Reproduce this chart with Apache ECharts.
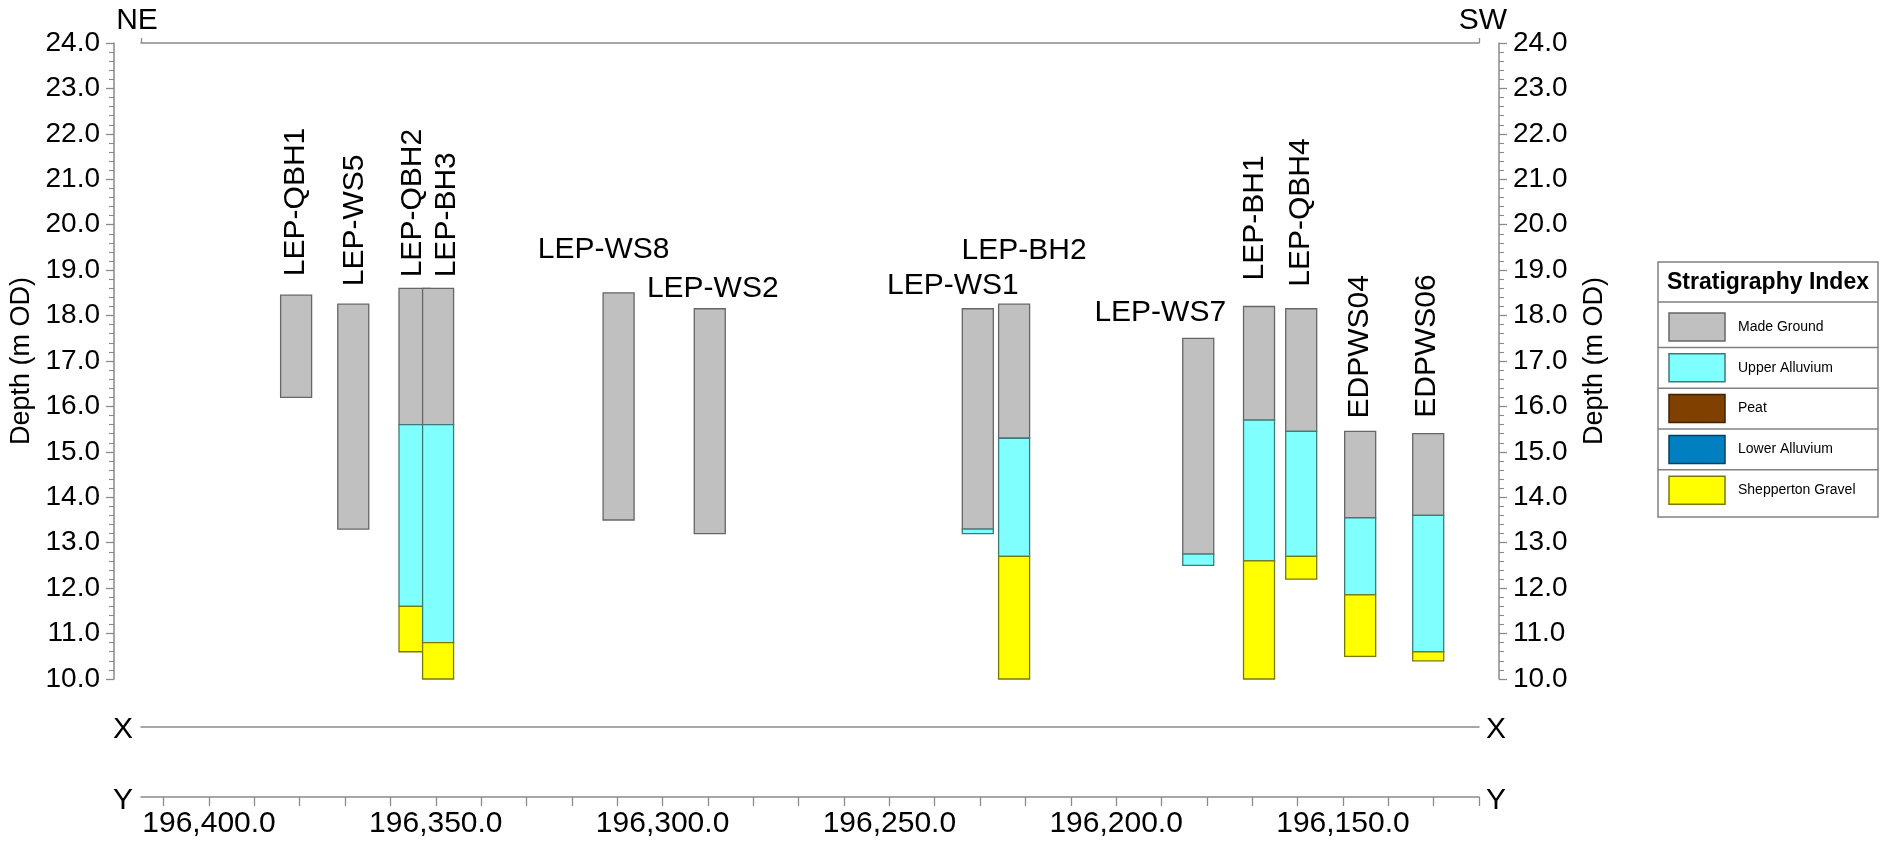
<!DOCTYPE html>
<html>
<head>
<meta charset="utf-8">
<script src="https://cdn.jsdelivr.net/npm/echarts@6/dist/echarts.min.js"></script>
<style>
    html, body { margin: 0; padding: 0; background: #fff; }
    #main { width: 1890px; height: 843px; }
</style>
</head>
<body>
<div id="main"></div>
<script>
// boreholes along the NE -> SW section
var boreholes = ['LEP-QBH1', 'LEP-WS5', 'LEP-QBH2', 'LEP-BH3', 'LEP-WS8', 'LEP-WS2', 'LEP-WS1',
    'LEP-BH2', 'LEP-WS7', 'LEP-BH1', 'LEP-QBH4', 'EDPWS04', 'EDPWS06'];
var northing = [196380.8, 196368.2, 196354.7, 196349.5, 196309.7, 196289.6, 196230.5,
    196222.5, 196181.9, 196168.5, 196159.2, 196146.2, 196131.2];
var groundLevel = [18.45, 18.25, 18.6, 18.6, 18.5, 18.15, 18.15, 18.25, 17.5, 18.2, 18.15, 15.45, 15.4];

// stratigraphy index
var strata = ['Made Ground', 'Upper Alluvium', 'Peat', 'Lower Alluvium', 'Shepperton Gravel'];
// base level (m OD) of each stratum per borehole, null = not present
var baseMadeGround = [16.2, 13.3, 15.6, 15.6, 13.5, 13.2, 13.3, 15.3, 12.75, 15.7, 15.45, 13.55, 13.6];
var baseUpperAlluvium = [null, null, 11.6, 10.8, null, null, 13.2, 12.7, 12.5, 12.6, 12.7, 11.85, 10.6];
var basePeat = [null, null, null, null, null, null, null, null, null, null, null, null, null];
var baseLowerAlluvium = [null, null, null, null, null, null, null, null, null, null, null, null, null];
var baseShepperton = [null, null, 10.6, 10.0, null, null, null, 10.0, null, 10.0, 12.2, 10.5, 10.4];

// axes
var northingTicks = [196410, 196400, 196390, 196380, 196370, 196360, 196350, 196340, 196330, 196320,
    196310, 196300, 196290, 196280, 196270, 196260, 196250, 196240, 196230, 196220,
    196210, 196200, 196190, 196180, 196170, 196160, 196150, 196140, 196130, 196120];
var northingLabels = [196400, 196350, 196300, 196250, 196200, 196150];
var northingMin = 196120, northingMax = 196415;
var depthMin = 10, depthMax = 24;

var strataColors = ['#c0c0c0', '#80ffff', '#804000', '#0080c0', '#ffff00'];
var strataEdges = ['#666666', '#3d7a7a', '#402000', '#004060', '#7a7a00'];
var FONT = '"Liberation Sans", Arial, sans-serif';
var BAR_W = 31;
var AXIS_GREY = '#8a8a8a';

// where each borehole name sits relative to the top of its log (px)
var labelLayout = {
    'LEP-QBH1': { rot: true, dx: 0, dy: -19 },
    'LEP-WS5': { rot: true, dx: 1, dy: -18 },
    'LEP-QBH2': { rot: true, dx: -2, dy: -11 },
    'LEP-BH3': { rot: true, dx: 9, dy: -11 },
    'LEP-WS8': { rot: false, dx: -15, dy: -43 },
    'LEP-WS2': { rot: false, dx: 3, dy: -20 },
    'LEP-WS1': { rot: false, dx: -25, dy: -23 },
    'LEP-BH2': { rot: false, dx: 10, dy: -53 },
    'LEP-WS7': { rot: false, dx: -38, dy: -26 },
    'LEP-BH1': { rot: true, dx: -4, dy: -26 },
    'LEP-QBH4': { rot: true, dx: 0, dy: -22 },
    'EDPWS04': { rot: true, dx: 0, dy: -13 },
    'EDPWS06': { rot: true, dx: -1, dy: -16 }
};

// build one rectangle per stratum layer
var bases = [baseMadeGround, baseUpperAlluvium, basePeat, baseLowerAlluvium, baseShepperton];
var layers = [];
boreholes.forEach(function(name, i) {
    var top = groundLevel[i];
    bases.forEach(function(b, s) {
        if (b[i] == null) return;
        layers.push([northing[i], top, b[i], s]);
        top = b[i];
    });
});
var labelData = boreholes.map(function(name, i) {
    return [northing[i], groundLevel[i]];
});

function fmtNorthing(v) {
    return v.toLocaleString('en-US', { minimumFractionDigits: 1, maximumFractionDigits: 1 });
}

function renderLayer(params, api) {
    var p1 = api.coord([api.value(0), api.value(1)]);
    var p2 = api.coord([api.value(0), api.value(2)]);
    var s = api.value(3);
    return {
        type: 'rect',
        shape: { x: p1[0] - BAR_W / 2, y: p1[1], width: BAR_W, height: p2[1] - p1[1] },
        style: { fill: strataColors[s], stroke: strataEdges[s], lineWidth: 1.3 }
    };
}

function renderLabel(params, api) {
    var name = boreholes[params.dataIndex];
    var lay = labelLayout[name];
    var p = api.coord([api.value(0), api.value(1)]);
    return {
        type: 'text',
        x: p[0] + lay.dx,
        y: p[1] + lay.dy,
        rotation: lay.rot ? Math.PI / 2 : 0,
        style: {
            text: name,
            font: '30px ' + FONT,
            fill: '#000',
            align: lay.rot ? 'left' : 'center',
            verticalAlign: 'middle'
        }
    };
}

function depthAxis(pos, offset, gap) {
    return {
        type: 'value',
        position: pos,
        offset: offset,
        min: depthMin,
        max: depthMax,
        interval: 1,
        name: 'Depth (m OD)',
        nameLocation: 'middle',
        nameRotate: 90,
        nameGap: gap,
        nameTextStyle: { fontSize: 27, color: '#000', fontFamily: FONT },
        axisLine: { show: true, lineStyle: { color: AXIS_GREY, width: 1.5 } },
        axisTick: { show: true, length: 8, lineStyle: { color: AXIS_GREY, width: 1.3 } },
        minorTick: { show: true, splitNumber: 5, length: 5, lineStyle: { color: AXIS_GREY, width: 1.1 } },
        axisLabel: {
            fontSize: 28, color: '#000', fontFamily: FONT, margin: 14,
            padding: [10, 0, 0, 0],
            formatter: function(v) { return v.toFixed(1); }
        },
        splitLine: { show: false },
        minorSplitLine: { show: false }
    };
}

function northAxis(pos, offset, extra) {
    var ax = {
        type: 'value',
        position: pos,
        offset: offset,
        min: northingMin,
        max: northingMax,
        inverse: true,
        axisLine: { show: true, onZero: false, lineStyle: { color: AXIS_GREY, width: 1.5 } },
        axisTick: { show: false },
        axisLabel: { show: false },
        splitLine: { show: false }
    };
    return Object.assign(ax, extra || {});
}

// legend table on the right
var LX = 1658, LW = 220, LTOP = 262, LHEAD = 302, ROW = 40.8, LBOT = 517;
var legendGraphics = [
    { type: 'rect', shape: { x: LX, y: LTOP, width: LW, height: LBOT - LTOP },
      style: { fill: '#fff', stroke: '#808080', lineWidth: 1.5 } },
    { type: 'text', x: LX + LW / 2, y: (LTOP + LHEAD) / 2 + 1,
      style: { text: 'Stratigraphy Index', font: 'bold 23px ' + FONT, fill: '#000', align: 'center', verticalAlign: 'middle' } },
    { type: 'line', shape: { x1: LX, y1: LHEAD, x2: LX + LW, y2: LHEAD }, style: { stroke: '#808080', lineWidth: 1.5 } }
];
strata.forEach(function(name, i) {
    var cy = 327 + i * ROW;
    legendGraphics.push({ type: 'rect', shape: { x: 1669, y: cy - 14, width: 56, height: 28 },
        style: { fill: strataColors[i], stroke: strataEdges[i], lineWidth: 1.5 } });
    legendGraphics.push({ type: 'text', x: 1738, y: cy,
        style: { text: name, font: '14px ' + FONT, fill: '#000', align: 'left', verticalAlign: 'middle' } });
    if (i < strata.length - 1) {
        legendGraphics.push({ type: 'line', shape: { x1: LX, y1: cy + ROW / 2, x2: LX + LW, y2: cy + ROW / 2 },
            style: { stroke: '#808080', lineWidth: 1.5 } });
    }
});

function letter(t, x, y) {
    return { type: 'text', x: x, y: y,
        style: { text: t, font: '30px ' + FONT, fill: '#000', align: 'center', verticalAlign: 'middle' } };
}

var chart = echarts.init(document.getElementById('main'), null, { renderer: 'canvas' });
chart.setOption({
    backgroundColor: '#fff',
    animation: false,
    textStyle: { fontFamily: FONT },
    grid: { left: 141, right: 411, top: 43, bottom: 164, containLabel: false, outerBoundsMode: 'none' },
    xAxis: [
        northAxis('top', 0, {
            axisTick: { show: true, inside: false, length: 5, customValues: [northingMin, northingMax],
                lineStyle: { color: AXIS_GREY, width: 1.3 } }
        }),
        northAxis('bottom', 48),
        northAxis('bottom', 118, {
            axisTick: { show: true, length: 9, customValues: northingTicks, lineStyle: { color: AXIS_GREY, width: 1.3 } },
            axisLabel: { show: true, customValues: northingLabels, formatter: fmtNorthing,
                fontSize: 30, color: '#000', fontFamily: FONT, margin: 12 }
        })
    ],
    yAxis: [
        depthAxis('left', 27, 70),
        depthAxis('right', 20, 82)
    ],
    series: [
        {
            type: 'custom',
            name: 'strata',
            xAxisIndex: 2,
            yAxisIndex: 0,
            renderItem: renderLayer,
            encode: { x: 0, y: [1, 2] },
            data: layers,
            silent: true
        },
        {
            type: 'custom',
            name: 'labels',
            xAxisIndex: 2,
            yAxisIndex: 0,
            renderItem: renderLabel,
            encode: { x: 0, y: 1 },
            data: labelData,
            silent: true
        }
    ],
    graphic: legendGraphics.concat([
        letter('NE', 137, 21),
        letter('SW', 1483, 21),
        letter('X', 123, 730),
        letter('X', 1496, 730),
        letter('Y', 123, 801),
        letter('Y', 1496, 801)
    ])
});
</script>
</body>
</html>
